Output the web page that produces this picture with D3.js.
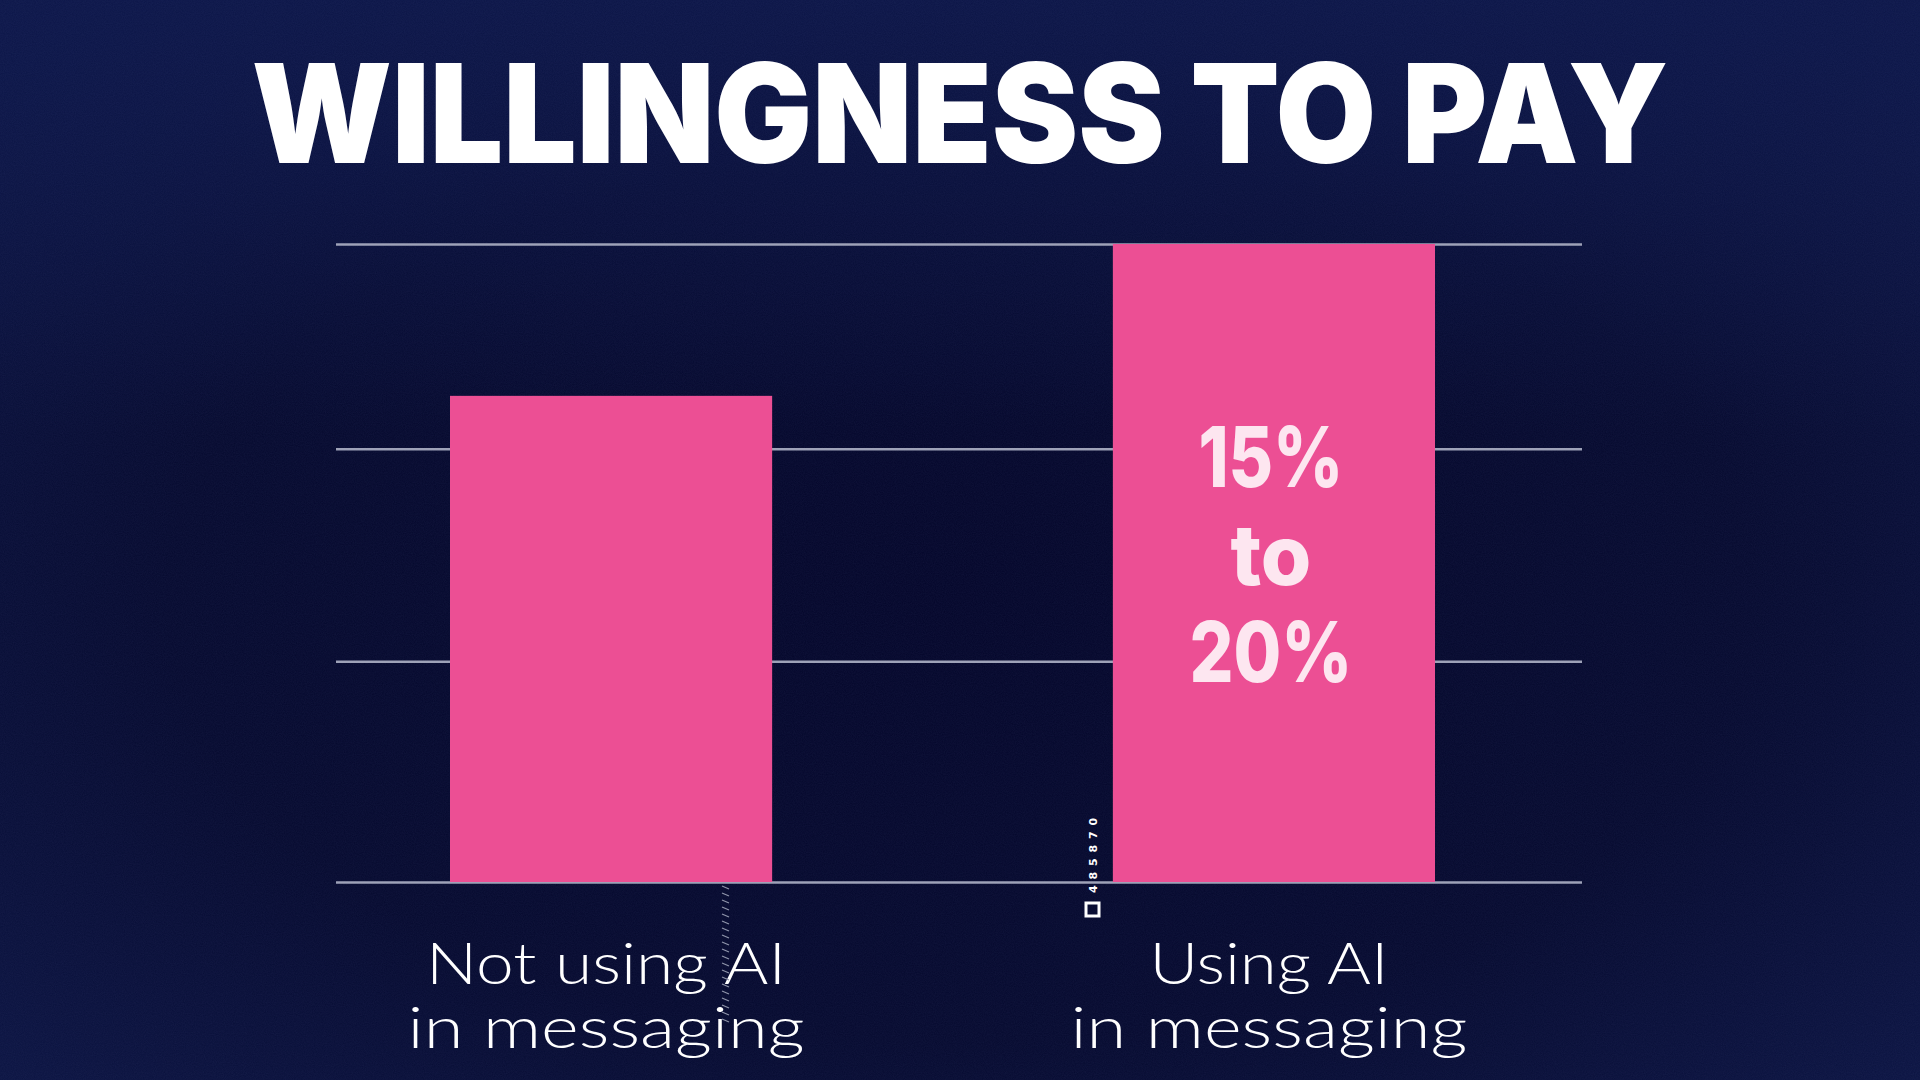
<!DOCTYPE html>
<html>
<head>
<meta charset="utf-8">
<script src="https://cdn.jsdelivr.net/npm/d3@7"></script>
<style>
html,body{margin:0;padding:0;background:#070b30;overflow:hidden;}
svg{display:block;}
</style>
</head>
<body>
<svg id="chart" width="1920" height="1080"></svg>
<script>
// ---- data ----
const title = "WILLINGNESS TO PAY";
const categories = ["Not using AI|in messaging", "Using AI|in messaging"];
const values = [76.2, 100];          // relative height (Using AI = 100)
const gridValues = [0, 34.6, 67.9, 100];
const barAnnotation = ["15%", "to", "20%"];
const codeText = "4 8 5 8 7 0";

const W = 1920, H = 1080;
const svg = d3.select("#chart");
const defs = svg.append("defs");

// background gradient
const bg = defs.append("radialGradient").attr("id","bg")
  .attr("cx","50%").attr("cy","55%").attr("r","75%");
bg.append("stop").attr("offset","0%").attr("stop-color","#04062a");
bg.append("stop").attr("offset","55%").attr("stop-color","#060a2f");
bg.append("stop").attr("offset","100%").attr("stop-color","#0d1748");
const bgTop = defs.append("linearGradient").attr("id","bgTop").attr("x1",0).attr("y1",0).attr("x2",0).attr("y2",1);
bgTop.append("stop").attr("offset","0%").attr("stop-color","#0c1649").attr("stop-opacity",0.85);
bgTop.append("stop").attr("offset","40%").attr("stop-color","#0c1649").attr("stop-opacity",0);

const noise = defs.append("filter").attr("id","grain").attr("x",0).attr("y",0).attr("width","100%").attr("height","100%");
noise.append("feTurbulence").attr("type","fractalNoise").attr("baseFrequency",0.9).attr("numOctaves",2).attr("seed",3);
noise.append("feColorMatrix").attr("type","matrix")
  .attr("values","0 0 0 0 0.3  0 0 0 0 0.35  0 0 0 0 0.7  0 0 0 0.15 0");

svg.append("rect").attr("width",W).attr("height",H).attr("fill","url(#bg)");
svg.append("rect").attr("width",W).attr("height",H).attr("fill","url(#bgTop)");
svg.append("rect").attr("width",W).attr("height",H).attr("filter","url(#grain)").attr("opacity",0.5);

// title
svg.append("text")
  .attr("x", 960).attr("y", 163)
  .attr("text-anchor","middle")
  .attr("font-family","Inter, 'Open Sans', sans-serif")
  .attr("font-weight", 900)
  .attr("font-size", 138)
  .attr("textLength", 1417)
  .attr("lengthAdjust","spacingAndGlyphs")
  .attr("fill","#ffffff")
  .text(title);

// scales
const x = d3.scaleBand().domain(categories).range([450, 1435]).paddingInner(0.514).paddingOuter(0);
const y = d3.scaleLinear().domain([0, 100]).range([882, 244]);

// gridlines via axis
const gridAxis = d3.axisLeft(y).tickValues(gridValues).tickSize(-(1582-336)).tickFormat("");
const g = svg.append("g").attr("transform","translate(336,0)").call(gridAxis);
g.select(".domain").remove();
g.selectAll(".tick line").attr("stroke","#9ea2b8").attr("stroke-width",2.5);

// bars
svg.append("g").selectAll("rect").data(categories).join("rect")
  .attr("x", d => x(d))
  .attr("y", (d,i) => y(values[i]))
  .attr("width", x.bandwidth())
  .attr("height", (d,i) => y(0) - y(values[i]))
  .attr("fill","#ec4f94");

// annotation in second bar
const cx2 = x(categories[1]) + x.bandwidth()/2;
const annY = [487, 585, 682];
const annW = [145, 81, 163];
svg.append("g").selectAll("text").data(barAnnotation).join("text")
  .attr("x", cx2 - 3)
  .attr("y", (d,i) => annY[i])
  .attr("text-anchor","middle")
  .attr("font-family","Inter, 'Open Sans', sans-serif")
  .attr("font-weight", 800)
  .attr("font-size", 84)
  .attr("textLength", (d,i) => annW[i])
  .attr("lengthAdjust","spacingAndGlyphs")
  .attr("fill","#fde6f0")
  .text(d => d);

// category labels
const labelW = [[360, 397], [239, 397]];
categories.forEach((c, i) => {
  const cx = x(c) + x.bandwidth()/2;
  const lines = c.split("|");
  lines.forEach((ln, j) => {
    svg.append("text")
      .attr("x", cx - 5)
      .attr("y", 984 + j*64)
      .attr("text-anchor","middle")
      .attr("font-family","Lato, 'Open Sans', sans-serif")
      .attr("font-weight", 300)
      .attr("font-size", 58)
      .attr("textLength", labelW[i][j])
      .attr("lengthAdjust","spacingAndGlyphs")
      .attr("fill","#ffffff")
      .text(ln);
  });
});

// decorative code text + square near second bar
svg.append("text")
  .attr("transform","translate(1097,893) rotate(-90)")
  .attr("font-family","'DejaVu Sans', sans-serif")
  .attr("font-size", 11)
  .attr("font-weight", 700)
  .attr("letter-spacing", 1)
  .attr("fill","#ffffff")
  .text(codeText);
svg.append("rect").attr("x",1086).attr("y",903).attr("width",13).attr("height",13)
  .attr("fill","none").attr("stroke","#ffffff").attr("stroke-width",3);

// decorative dashed hatch below first bar
const dashes = d3.range(886, 1022, 7);
svg.append("g").selectAll("line").data(dashes).join("line")
  .attr("x1", 722).attr("y1", d => d)
  .attr("x2", 729).attr("y2", d => d + 3)
  .attr("stroke","#8f94aa").attr("stroke-width",1.3);
</script>
</body>
</html>
